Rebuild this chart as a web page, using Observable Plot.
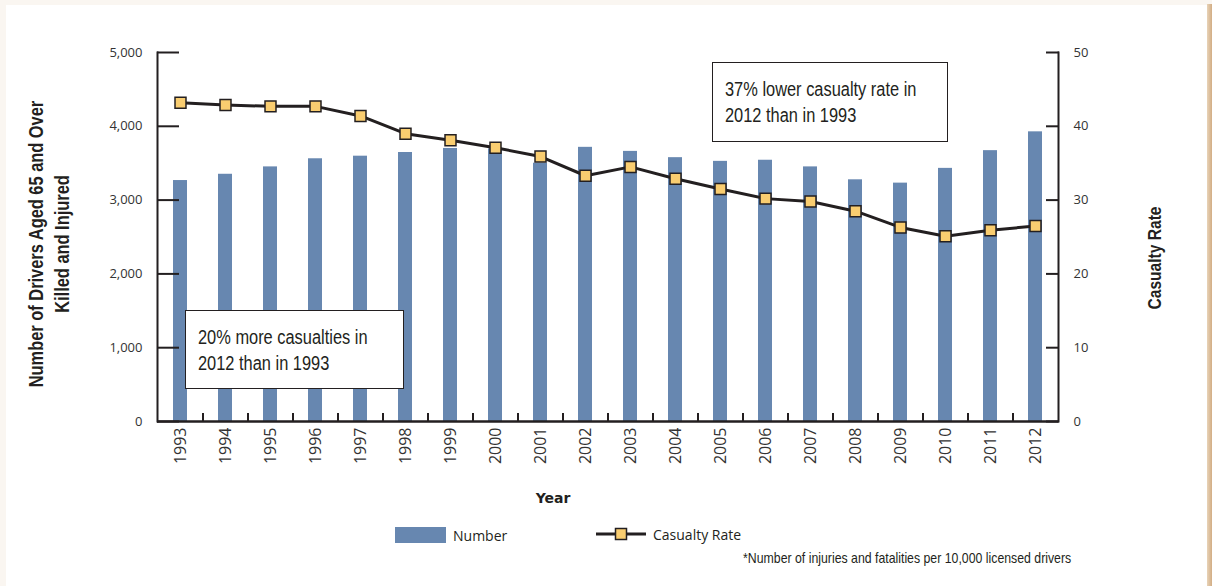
<!DOCTYPE html>
<html>
<head>
<meta charset="utf-8">
<script src="https://cdn.jsdelivr.net/npm/d3@7"></script>
<script src="https://cdn.jsdelivr.net/npm/@observablehq/plot@0.6"></script>
<style>
  html, body { margin: 0; padding: 0; background: #faf6f1; }
  #page { position: relative; width: 1212px; height: 586px; overflow: hidden; background: #faf6f1; }
  #panel { position: absolute; left: 6px; top: 5px; width: 1201px; height: 581px; background: #ffffff; }
  #edge { position: absolute; left: 1207px; top: 4px; width: 5px; height: 582px;
          background: linear-gradient(to right, #e8d3b8, #d2ad84); }
  #chart { position: absolute; left: 0; top: 0; }
  /* condensed face built from Liberation Sans squeezed horizontally */
  .narrow { font-family: "Liberation Sans", Arial, sans-serif; color: #231f20; white-space: nowrap; }
  .rot { position: absolute; text-align: center; font-weight: bold; }
  #ytitle { left: 49px; top: 244px; font-size: 20px; line-height: 26px;
            transform: translate(-50%, -50%) rotate(-90deg) scaleX(0.82); }
  #y2title { left: 1155px; top: 258px; font-size: 19px; line-height: 26px;
             transform: translate(-50%, -50%) rotate(-90deg) scaleX(0.82); }
  #xtitle { position: absolute; left: 553px; top: 498px; transform: translate(-50%, -50%);
            font-family: "DejaVu Sans", sans-serif; font-weight: bold; font-size: 14px; color: #231f20; }
  .note { position: absolute; box-sizing: border-box; background: #fff; border: 1.5px solid #231f20;
          display: flex; flex-direction: column; justify-content: center; font-size: 20px; line-height: 26px; }
  .note > div { transform: scaleX(0.82); transform-origin: left center; }
  #note1 { left: 185px; top: 310px; width: 219px; height: 79px; padding-left: 12px; }
  #note2 { left: 712px; top: 62px; width: 236px; height: 80px; padding-left: 12px; }
  .legend { position: absolute; font-family: "Open Sans", sans-serif; font-size: 14px; color: #231f20;
            display: flex; align-items: center; height: 20px; }
  #leg1 { left: 395px; top: 525px; }
  #leg2 { left: 596px; top: 524px; }
  .swatch { width: 51px; height: 16px; background: #6787b0; margin-right: 7px; }
  #foot { position: absolute; right: 141px; top: 557px; font-size: 15px;
          transform: translateY(-50%) scaleX(0.82); transform-origin: right center; }
</style>
</head>
<body>
<div id="page">
  <div id="panel"></div>
  <div id="edge"></div>
  <div id="chart"></div>
  <div id="ytitle" class="rot narrow">Number of Drivers Aged 65 and Over<br>Killed and Injured</div>
  <div id="y2title" class="rot narrow">Casualty Rate</div>
  <div id="xtitle">Year</div>
  <div id="note1" class="note narrow"><div>20% more casualties in</div><div>2012 than in 1993</div></div>
  <div id="note2" class="note narrow"><div>37% lower casualty rate in</div><div>2012 than in 1993</div></div>
  <div id="leg1" class="legend"><div class="swatch"></div><span>Number</span></div>
  <div id="leg2" class="legend">
    <svg width="52" height="20" style="margin-right:5px">
      <line x1="0" x2="50" y1="10" y2="10" stroke="#231f20" stroke-width="3"></line>
      <rect x="19.5" y="4.5" width="11" height="11" fill="#f9cd70" stroke="#231f20" stroke-width="1.5"></rect>
    </svg>
    <span>Casualty Rate</span>
  </div>
  <div id="foot" class="narrow">*Number of injuries and fatalities per 10,000 licensed drivers</div>
</div>
<script>
// Drivers aged 65 and over killed or injured, and casualty rate per 10,000 licensed drivers
const years = ["1993", "1994", "1995", "1996", "1997", "1998", "1999", "2000", "2001", "2002",
               "2003", "2004", "2005", "2006", "2007", "2008", "2009", "2010", "2011", "2012"];
const casualties = [3265, 3350, 3450, 3560, 3595, 3645, 3700, 3695, 3500, 3715,
                    3660, 3575, 3525, 3540, 3450, 3275, 3230, 3430, 3670, 3925];
const casualtyRate = [43.2, 42.9, 42.7, 42.7, 41.4, 39.0, 38.1, 37.1, 35.9, 33.3,
                      34.5, 32.9, 31.5, 30.2, 29.8, 28.5, 26.3, 25.1, 25.9, 26.5];
const countTicks = [0, 1000, 2000, 3000, 4000, 5000];
const rateTicks = [0, 10, 20, 30, 40, 50];

// The rate axis (0–50) shares the count scale (0–5,000)
const rateFactor = 100;

const rows = years.map((year, i) => ({year, number: casualties[i], rate: casualtyRate[i]}));

const W = 1212, H = 586, mL = 157, mR = 154, mT = 52, mB = 165;
const step = (W - mL - mR) / years.length;
const ink = "#231f20";

const plot = Plot.plot({
  width: W, height: H,
  marginLeft: mL, marginRight: mR, marginTop: mT, marginBottom: mB,
  style: {background: "transparent", fontFamily: "'Open Sans', sans-serif", color: "#333"},
  x: {type: "band", domain: years, paddingInner: 0.68, paddingOuter: 0.34, label: null},
  y: {domain: [0, 5000], label: null},
  marks: [
    Plot.barY(rows, {x: "year", y: "number", fill: "#6787b0"}),
    Plot.frame({anchor: "left", stroke: ink, strokeWidth: 2}),
    Plot.frame({anchor: "right", stroke: ink, strokeWidth: 2}),
    Plot.ruleY([0], {stroke: ink, strokeWidth: 2.5}),
    // inward ticks on both value axes
    Plot.axisY(countTicks, {anchor: "left", tickSize: -22, tickPadding: 37, stroke: ink, strokeWidth: 2,
                            tickFormat: d3.format(","), fontSize: 13, label: null}),
    Plot.axisY(rateTicks.map(d => d * rateFactor), {anchor: "right", tickSize: -13, tickPadding: 28,
                            stroke: ink, strokeWidth: 2, tickFormat: d => d / rateFactor, fontSize: 13, label: null}),
    // year labels
    Plot.axisX(years, {anchor: "bottom", tickSize: 0, tickPadding: 6, tickRotate: -90, fontSize: 16, label: null}),
    // small separators between years
    Plot.axisX(years.slice(1), {anchor: "bottom", tickSize: -8, dx: -step / 2, stroke: ink, strokeWidth: 2,
                                tickFormat: () => "", label: null}),
    Plot.line(rows, {x: "year", y: d => d.rate * rateFactor, stroke: ink, strokeWidth: 3}),
    Plot.dot(rows, {x: "year", y: d => d.rate * rateFactor, symbol: "square", r: 6.2,
                    fill: "#f9cd70", stroke: ink, strokeWidth: 1.5})
  ]
});
document.getElementById("chart").append(plot);
</script>
</body>
</html>
